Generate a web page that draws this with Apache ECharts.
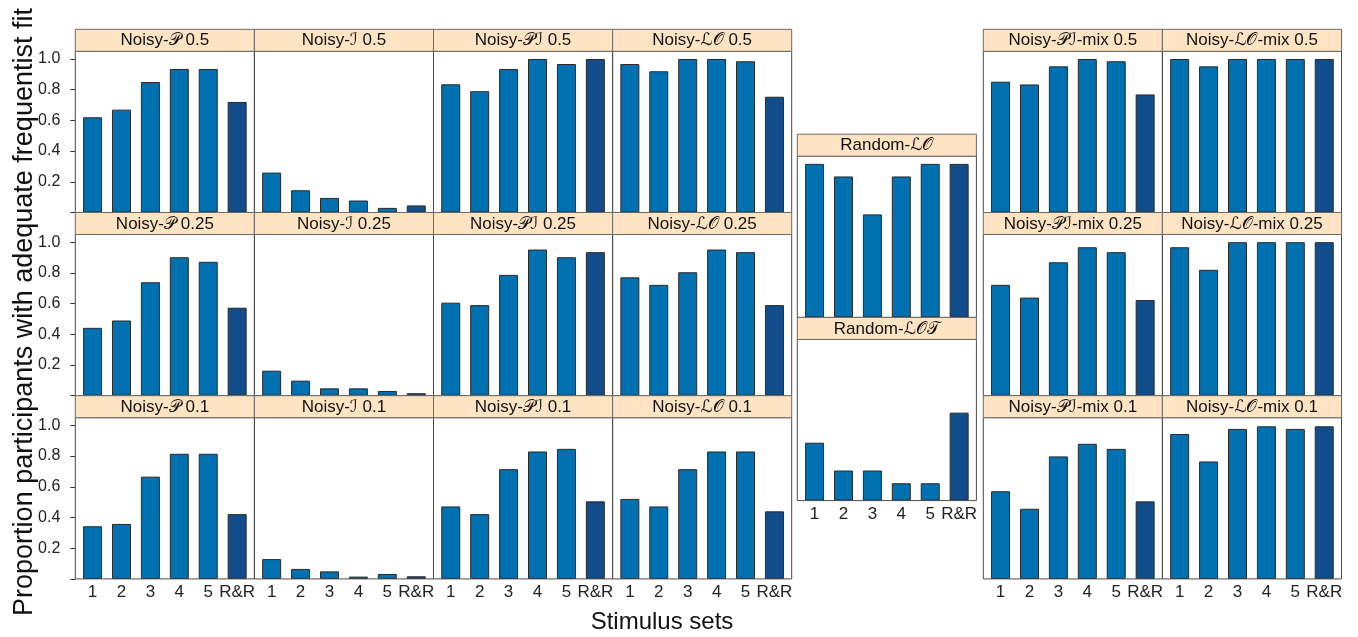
<!DOCTYPE html>
<html><head><meta charset="utf-8">
<script src="https://cdn.jsdelivr.net/npm/echarts@6/dist/echarts.min.js"></script>
<style>html,body{margin:0;padding:0;background:#fff}#c{width:1358px;height:637px}</style>
</head><body><div id="c"></div>
<script>
// ---- data ----
const categories = ['1', '2', '3', '4', '5', 'R&R'];
const yTickValues = [0, 0.2, 0.4, 0.6, 0.8, 1.0];
const yLabelValues = [0.2, 0.4, 0.6, 0.8, 1.0];

const noisyP_05   = [0.62, 0.67, 0.85, 0.935, 0.935, 0.72];
const noisyI_05   = [0.26, 0.145, 0.095, 0.078, 0.03, 0.046];
const noisyPI_05  = [0.835, 0.79, 0.935, 1.0, 0.967, 1.0];
const noisyLO_05  = [0.967, 0.92, 1.0, 1.0, 0.985, 0.754];
const noisyP_025  = [0.442, 0.49, 0.739, 0.902, 0.872, 0.573];
const noisyI_025  = [0.163, 0.098, 0.048, 0.048, 0.031, 0.016];
const noisyPI_025 = [0.606, 0.59, 0.787, 0.952, 0.902, 0.935];
const noisyLO_025 = [0.771, 0.722, 0.804, 0.952, 0.935, 0.59];
const noisyP_01   = [0.343, 0.358, 0.666, 0.815, 0.815, 0.422];
const noisyI_01   = [0.129, 0.065, 0.049, 0.015, 0.032, 0.017];
const noisyPI_01  = [0.472, 0.422, 0.715, 0.83, 0.847, 0.505];
const noisyLO_01  = [0.521, 0.472, 0.715, 0.83, 0.83, 0.44];
const randomLO    = [1.0, 0.918, 0.671, 0.918, 1.0, 1.0];
const randomLOT   = [0.377, 0.196, 0.196, 0.113, 0.113, 0.573];
const noisyPImix_05  = [0.852, 0.834, 0.952, 1.0, 0.985, 0.769];
const noisyLOmix_05  = [1.0, 0.952, 1.0, 1.0, 1.0, 1.0];
const noisyPImix_025 = [0.722, 0.639, 0.869, 0.967, 0.935, 0.623];
const noisyLOmix_025 = [0.967, 0.82, 1.0, 1.0, 1.0, 1.0];
const noisyPImix_01  = [0.571, 0.457, 0.798, 0.88, 0.847, 0.505];
const noisyLOmix_01  = [0.944, 0.765, 0.977, 0.994, 0.977, 0.994];

const panels = [
  {t: 'Noisy-𝒫 0.5',  d: noisyP_05,  b: 'L', c: 0, r: 0},
  {t: 'Noisy-ℐ 0.5',  d: noisyI_05,  b: 'L', c: 1, r: 0},
  {t: 'Noisy-𝒫ℐ 0.5', d: noisyPI_05, b: 'L', c: 2, r: 0},
  {t: 'Noisy-ℒ𝒪 0.5', d: noisyLO_05, b: 'L', c: 3, r: 0},
  {t: 'Noisy-𝒫 0.25',  d: noisyP_025,  b: 'L', c: 0, r: 1},
  {t: 'Noisy-ℐ 0.25',  d: noisyI_025,  b: 'L', c: 1, r: 1},
  {t: 'Noisy-𝒫ℐ 0.25', d: noisyPI_025, b: 'L', c: 2, r: 1},
  {t: 'Noisy-ℒ𝒪 0.25', d: noisyLO_025, b: 'L', c: 3, r: 1},
  {t: 'Noisy-𝒫 0.1',  d: noisyP_01,  b: 'L', c: 0, r: 2},
  {t: 'Noisy-ℐ 0.1',  d: noisyI_01,  b: 'L', c: 1, r: 2},
  {t: 'Noisy-𝒫ℐ 0.1', d: noisyPI_01, b: 'L', c: 2, r: 2},
  {t: 'Noisy-ℒ𝒪 0.1', d: noisyLO_01, b: 'L', c: 3, r: 2},
  {t: 'Random-ℒ𝒪',  d: randomLO,  b: 'M', c: 0, r: 0},
  {t: 'Random-ℒ𝒪𝒯', d: randomLOT, b: 'M', c: 0, r: 1},
  {t: 'Noisy-𝒫ℐ-mix 0.5',  d: noisyPImix_05,  b: 'R', c: 0, r: 0},
  {t: 'Noisy-ℒ𝒪-mix 0.5',  d: noisyLOmix_05,  b: 'R', c: 1, r: 0},
  {t: 'Noisy-𝒫ℐ-mix 0.25', d: noisyPImix_025, b: 'R', c: 0, r: 1},
  {t: 'Noisy-ℒ𝒪-mix 0.25', d: noisyLOmix_025, b: 'R', c: 1, r: 1},
  {t: 'Noisy-𝒫ℐ-mix 0.1',  d: noisyPImix_01,  b: 'R', c: 0, r: 2},
  {t: 'Noisy-ℒ𝒪-mix 0.1',  d: noisyLOmix_01,  b: 'R', c: 1, r: 2}
];

// ---- layout ----
const PW = 179.1, SH = 22, PH = 161.2, RS = SH + PH, INSET = 2.8;
const blocks = {
  L: {x: 75.3, y: 29.3, rows: 3},
  M: {x: 797.3, y: 134.2, rows: 2},
  R: {x: 983.3, y: 29.3, rows: 3}
};
const LIGHT = '#0071B0', DARK = '#114D8A';
const FONT = '"Liberation Sans", Arial, "DejaVu Sans", sans-serif';
const MATHFONT = '"Liberation Sans", "DejaVu Sans", "DejaVu Serif", "Noto Sans", sans-serif';

const grid = [], xAxis = [], yAxis = [], series = [], graphic = [];
panels.forEach((p, i) => {
  const B = blocks[p.b];
  const px = B.x + p.c * PW;
  const sy = B.y + p.r * RS;
  const last = p.r === B.rows - 1;
  const firstCol = p.b === 'L' && p.c === 0;
  grid.push({left: px + INSET, top: sy + SH, width: PW - 2 * INSET, height: PH});
  xAxis.push({
    type: 'category', gridIndex: i, data: categories,
    axisLine: {show: false}, axisTick: {show: false},
    axisLabel: {show: last, interval: 0, fontSize: 17, margin: 5, color: '#222', fontFamily: FONT}
  });
  yAxis.push({
    type: 'value', gridIndex: i, min: 0, max: 1.05, interval: 0.2,
    show: firstCol, offset: INSET,
    splitLine: {show: false}, axisLine: {show: false},
    axisTick: {show: true, length: 5, customValues: yTickValues, lineStyle: {color: '#333'}},
    axisLabel: {customValues: yLabelValues, formatter: v => v.toFixed(1), fontSize: 16, margin: 15, color: '#222', fontFamily: FONT}
  });
  series.push({
    type: 'bar', xAxisIndex: i, yAxisIndex: i, barWidth: 19, silent: true,
    data: p.d.map((v, j) => ({value: v, itemStyle: {color: j === categories.length - 1 ? DARK : LIGHT}})),
    itemStyle: {borderColor: '#2a2a2a', borderWidth: 1}
  });
  graphic.push({
    type: 'rect', z: 100, silent: true,
    shape: {x: px, y: sy + SH, width: PW, height: PH},
    style: {fill: 'none', stroke: '#4a4a4a', lineWidth: 1}
  });
  graphic.push({
    type: 'rect', z: 100, silent: true,
    shape: {x: px, y: sy, width: PW, height: SH},
    style: {fill: '#FFE4C4', stroke: '#6a6a6a', lineWidth: 1}
  });
  graphic.push({
    type: 'text', z: 101, silent: true, x: px + PW / 2, y: sy + SH / 2 + 0.5,
    style: {text: p.t, fill: '#111', font: '17px ' + MATHFONT, align: 'center', verticalAlign: 'middle'}
  });
});
graphic.push({
  type: 'text', silent: true, x: 662, y: 622,
  style: {text: 'Stimulus sets', fill: '#111', font: '24px ' + FONT, align: 'center', verticalAlign: 'middle'}
});
graphic.push({
  type: 'text', silent: true, x: 25, y: 312, rotation: Math.PI / 2,
  style: {text: 'Proportion participants with adequate frequentist fit', fill: '#111', font: '27px ' + FONT, align: 'center', verticalAlign: 'middle'}
});

const chart = echarts.init(document.getElementById('c'), null, {renderer: 'canvas'});
chart.setOption({animation: false, grid, xAxis, yAxis, series, graphic});
</script></body></html>
